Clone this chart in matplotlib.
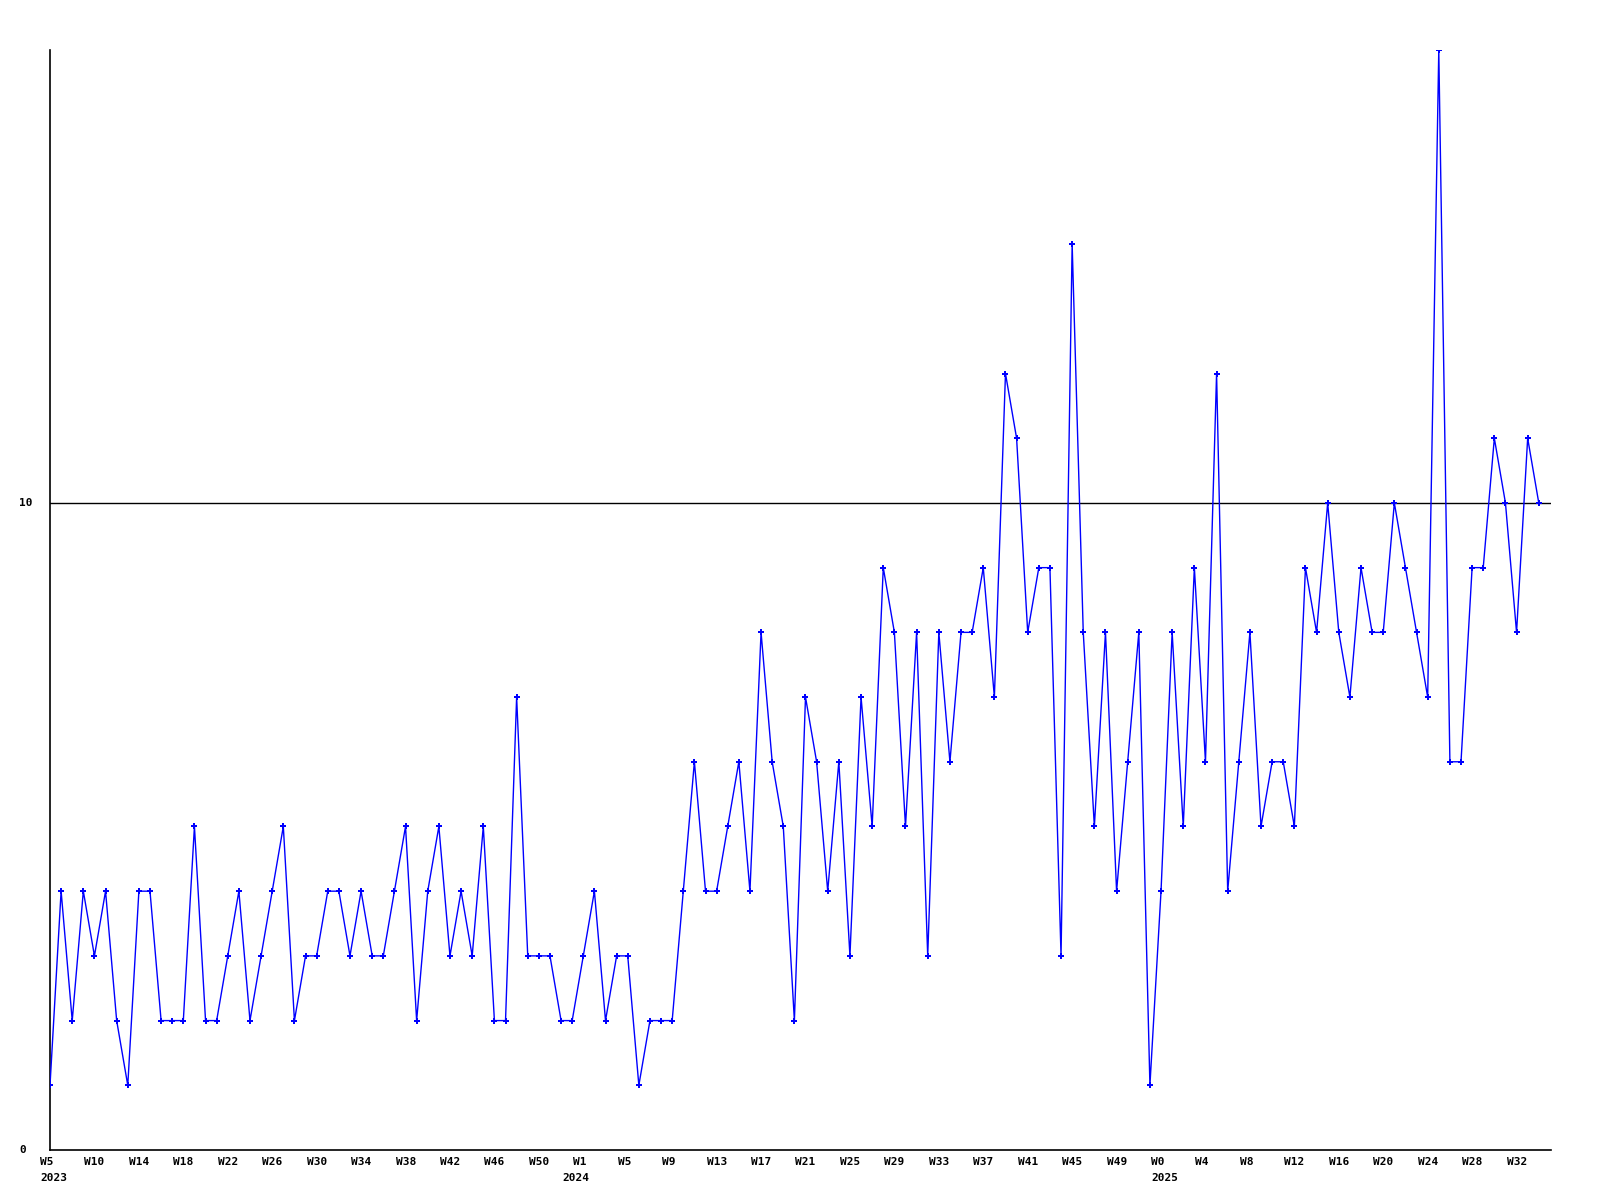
import matplotlib
matplotlib.use("Agg")
import matplotlib.pyplot as plt

values = [1, 4, 2, 4, 3, 4, 2, 1, 4, 4,
          2, 2, 2, 5, 2, 2, 3, 4, 2, 3,
          4, 5, 2, 3, 3, 4, 4, 3, 4, 3,
          3, 4, 5, 2, 4, 5, 3, 4, 3, 5,
          2, 2, 7, 3, 3, 3, 2, 2, 3, 4,
          2, 3, 3, 1, 2, 2, 2, 4, 6, 4,
          4, 5, 6, 4, 8, 6, 5, 2, 7, 6,
          4, 6, 3, 7, 5, 9, 8, 5, 8, 3,
          8, 6, 8, 8, 9, 7, 12, 11, 8, 9,
          9, 3, 14, 8, 5, 8, 4, 6, 8, 1,
          4, 8, 5, 9, 6, 12, 4, 6, 8, 5,
          6, 6, 5, 9, 8, 10, 8, 7, 9, 8,
          8, 10, 9, 8, 7, 17, 6, 6, 9, 9,
          11, 10, 8, 11, 10]

tick_labels = ["W5", "W10", "W14", "W18", "W22", "W26", "W30", "W34", "W38", "W42",
               "W46", "W50", "W1", "W5", "W9", "W13", "W17", "W21", "W25", "W29",
               "W33", "W37", "W41", "W45", "W49", "W0", "W4", "W8", "W12", "W16",
               "W20", "W24", "W28", "W32"]
year_labels = ["2023", "2024", "2025"]
year_positions = [0, 47, 100]
y_labels = [0, 10]

fig = plt.figure(figsize=(16, 12), dpi=100)
ax = fig.add_axes([50/1600, 50/1200, (1551-50)/1600, (1150-50)/1200])

x = list(range(len(values)))
ax.plot(x, values, color="#0000ff", lw=1, marker="P", ms=4, mew=0, zorder=3)
ax.axhline(10, color="black", lw=1, zorder=2)

ax.set_xlim(0, 135.1)
ax.set_ylim(0, 17)
ax.set_xticks([])
ax.set_yticks([])
for s in ["top", "right"]:
    ax.spines[s].set_visible(False)
for s in ["left", "bottom"]:
    ax.spines[s].set_linewidth(1.2)

font = dict(family="DejaVu Sans Mono", fontweight="bold", fontsize=8)

for i, lab in enumerate(tick_labels):
    ax.annotate(lab, xy=(i * 4, 38), xycoords=("data", "figure pixels"),
                xytext=(-10, 0), textcoords="offset pixels",
                ha="left", va="center", annotation_clip=False, **font)
for pos, lab in zip(year_positions, year_labels):
    ax.annotate(lab, xy=(pos, 22), xycoords=("data", "figure pixels"),
                xytext=(-10, 0), textcoords="offset pixels",
                ha="left", va="center", annotation_clip=False, **font)
for v in y_labels:
    ax.annotate(str(v), xy=(19, v), xycoords=("figure pixels", "data"),
                ha="left", va="center", annotation_clip=False, **font)

fig.savefig("out.png", dpi=100)
